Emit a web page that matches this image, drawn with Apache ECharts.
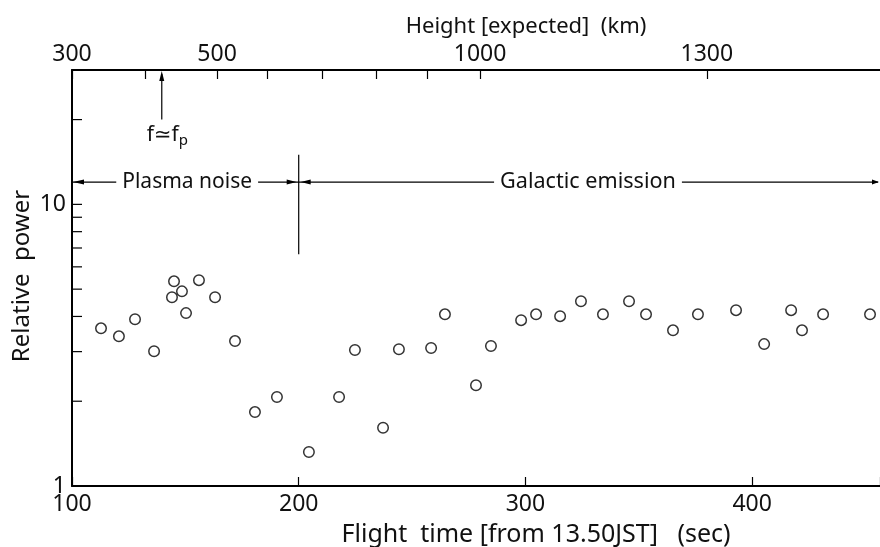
<!DOCTYPE html>
<html><head><meta charset="utf-8">
<script src="https://cdn.jsdelivr.net/npm/echarts@6/dist/echarts.min.js"></script>
<style>html,body{margin:0;padding:0;background:#fff}#c{width:880px;height:547px}</style>
</head><body><div id="c"></div>
<script>
// ---- data ----
const flightTime = [112.8,120.7,127.8,136.2,144.1,145.0,148.5,150.3,156.0,163.1,171.9,180.7,190.4,204.5,217.8,224.8,237.2,244.2,258.4,264.5,278.2,284.8,298.1,304.7,315.3,324.5,334.2,345.7,353.2,365.1,376.1,392.9,405.3,417.2,422.0,431.3,452.0];
const relativePower = [3.63,3.40,3.91,3.01,4.68,5.33,4.91,4.11,5.38,4.68,3.27,1.83,2.07,1.32,2.07,3.04,1.61,3.06,3.09,4.07,2.28,3.14,3.88,4.07,4.01,4.53,4.07,4.53,4.07,3.57,4.07,4.21,3.19,4.21,3.57,4.07,4.07];
const timeLabels = [100,200,300,400];
const powerLabels = [1,10];
const powerTicks = [2,3,4,5,6,7,8,9,10,20];
const heightTickValues = [300,400,500,600,700,800,900,1000,1300];
const heightTickTimes = [100,132.2,164,186,210.3,234,256.6,280,380];
const heightLabelValues = [300,500,1000,1300];

const timeMin = 100, timeMax = 456.4, powerMin = 1, powerMax = 30;
const boundaryTime = 200, regionLevel = 12, boundaryTop = 15, boundaryBottom = 6.65;
const fpTime = 139.6, fpArrowBottom = 20, fpTextLevel = 17.6;
const plasmaLabelTime = 150.8, galacticLabelTime = 327.6;

const heightLabelTimes = heightLabelValues.map(h => heightTickTimes[heightTickValues.indexOf(h)]);
const FONT = '"Noto Sans", "DejaVu Sans", sans-serif';
const INK = '#111';

const chart = echarts.init(document.getElementById('c'), null, {renderer: 'canvas'});

function annotations(params, api) {
  const L = api.coord([timeMin, regionLevel]);
  const R = api.coord([timeMax, regionLevel]);
  const B = api.coord([boundaryTime, regionLevel]);
  const BT = api.coord([boundaryTime, boundaryTop]);
  const BB = api.coord([boundaryTime, boundaryBottom]);
  const FT = api.coord([fpTime, powerMax]);
  const FB = api.coord([fpTime, fpArrowBottom]);
  const FX = api.coord([fpTime, fpTextLevel]);
  const P = api.coord([plasmaLabelTime, regionLevel]);
  const G = api.coord([galacticLabelTime, regionLevel]);
  const ls = {stroke: '#000', lineWidth: 1.2};
  const fs = {fill: '#000'};
  const txt = (pt, s, size) => ({type: 'text', x: pt[0], y: pt[1], style: {text: s, fill: INK, fontSize: size, fontFamily: FONT, align: 'center', verticalAlign: 'middle', backgroundColor: '#fff', padding: [0, 6]}});
  return {type: 'group', children: [
    {type: 'line', shape: {x1: L[0], y1: L[1], x2: R[0] - 2, y2: R[1]}, style: ls},
    {type: 'polygon', shape: {points: [[L[0] + 1, L[1]], [L[0] + 12, L[1] - 2.5], [L[0] + 12, L[1] + 2.5]]}, style: fs},
    {type: 'polygon', shape: {points: [[B[0] - 2, B[1]], [B[0] - 12, B[1] - 2.5], [B[0] - 12, B[1] + 2.5]]}, style: fs},
    {type: 'polygon', shape: {points: [[B[0] + 2, B[1]], [B[0] + 12, B[1] - 2.5], [B[0] + 12, B[1] + 2.5]]}, style: fs},
    {type: 'polygon', shape: {points: [[R[0] - 1, R[1]], [R[0] - 8, R[1] - 2.5], [R[0] - 8, R[1] + 2.5]]}, style: fs},
    {type: 'line', shape: {x1: BT[0], y1: BT[1], x2: BB[0], y2: BB[1]}, style: ls},
    {type: 'line', shape: {x1: FB[0], y1: FB[1], x2: FT[0], y2: FT[1] + 4}, style: ls},
    {type: 'polygon', shape: {points: [[FT[0], FT[1] + 1], [FT[0] - 2.5, FT[1] + 11], [FT[0] + 2.5, FT[1] + 11]]}, style: fs},
    txt(P, 'Plasma noise', 21),
    txt(G, 'Galactic emission', 21.6),
    {type: 'text', x: FX[0] - 15, y: FX[1], style: {
      text: '{a|f≃f}{b|p}', fill: INK, align: 'left', verticalAlign: 'middle',
      rich: {a: {fontSize: 21, fontFamily: FONT, fill: INK, lineHeight: 26, verticalAlign: 'middle'},
             b: {fontSize: 15, fontFamily: FONT, fill: INK, lineHeight: 15, verticalAlign: 'bottom', padding: [8, 0, 0, 0]}}}}
  ]};
}

const option = {
  animation: false,
  backgroundColor: '#fff',
  grid: {left: 72, right: 0, top: 70, bottom: 61, containLabel: false, outerBoundsMode: 'none'},
  xAxis: [{
    type: 'value', min: timeMin, max: timeMax, interval: 100, position: 'bottom',
    axisLine: {show: true, onZero: false, lineStyle: {color: '#000', width: 2}},
    axisTick: {show: true, inside: true, length: 9, lineStyle: {color: '#000', width: 1.2}},
    axisLabel: {show: true, color: INK, fontSize: 23, fontFamily: FONT, margin: 7,
      formatter: v => timeLabels.some(t => Math.abs(t - v) < 1e-6) ? String(v) : ''},
    splitLine: {show: false}
  }, {
    type: 'value', min: timeMin, max: timeMax, position: 'top',
    axisLine: {show: true, onZero: false, lineStyle: {color: '#000', width: 2}},
    axisTick: {show: true, inside: true, length: 9, customValues: heightTickTimes, lineStyle: {color: '#000', width: 1.2}},
    axisLabel: {show: true, color: INK, fontSize: 23, fontFamily: FONT, margin: 4, customValues: heightLabelTimes,
      formatter: v => { const i = heightLabelTimes.findIndex(t => Math.abs(t - v) < 1e-6); return i >= 0 ? String(heightLabelValues[i]) : ''; }},
    splitLine: {show: false}
  }],
  yAxis: [{
    type: 'log', logBase: 10, min: powerMin, max: powerMax,
    axisLine: {show: true, onZero: false, lineStyle: {color: '#000', width: 2}},
    axisTick: {show: false},
    minorTick: {show: false},
    axisLabel: {show: true, color: INK, fontSize: 23, fontFamily: FONT, margin: 6,
      formatter: v => powerLabels.some(t => Math.abs(t - v) < 1e-6) ? String(Math.round(v)) : ''},
    splitLine: {show: false}, minorSplitLine: {show: false}
  }],
  graphic: [
    {type: 'text', x: 526, y: 27, style: {text: 'Height [expected]  (km)', fill: INK, font: '22px ' + FONT, align: 'center', verticalAlign: 'middle'}},
    {type: 'text', x: 536, y: 535, style: {text: 'Flight  time [from 13.50JST]   (sec)', fill: INK, font: '25px ' + FONT, align: 'center', verticalAlign: 'middle'}},
    {type: 'text', x: 22, y: 276, rotation: Math.PI / 2, style: {text: 'Relative  power', fill: INK, font: '24px ' + FONT, align: 'center', verticalAlign: 'middle'}}
  ],
  series: [{
    type: 'scatter', xAxisIndex: 0, yAxisIndex: 0,
    data: flightTime.map((t, i) => [t, relativePower[i]]),
    symbol: 'circle', symbolSize: 10.5,
    itemStyle: {color: '#fff', borderColor: '#000', borderWidth: 1.5},
    silent: true
  }, {
    type: 'custom', coordinateSystem: 'cartesian2d', xAxisIndex: 0, yAxisIndex: 0, silent: true,
    data: powerTicks.map(v => [timeMin, v]),
    renderItem: (params, api) => {
      const p = api.coord([api.value(0), api.value(1)]);
      return {type: 'line', shape: {x1: p[0], y1: p[1], x2: p[0] + 10, y2: p[1]}, style: {stroke: '#000', lineWidth: 1.2}};
    }
  }, {
    type: 'custom', coordinateSystem: 'cartesian2d', xAxisIndex: 0, yAxisIndex: 0, silent: true, clip: false,
    data: [[boundaryTime, regionLevel]],
    renderItem: annotations
  }]
};
chart.setOption(option);
</script>
</body></html>
